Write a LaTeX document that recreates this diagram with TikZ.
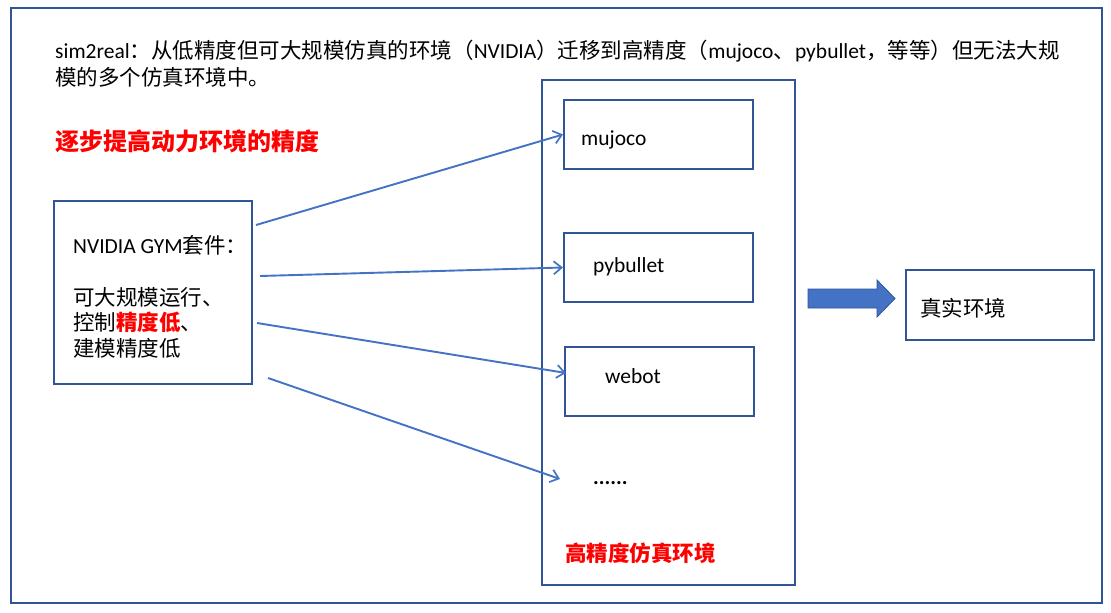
\documentclass[tikz,border=0pt]{standalone}
\usepackage{fontspec}
\setmainfont{Carlito}
\newfontfamily\cjk{Noto Sans CJK SC}
\usetikzlibrary{arrows.meta}
\newcommand\zh[1]{{\cjk #1}}
\definecolor{frameblue}{HTML}{2F5597}
\definecolor{lineblue}{HTML}{4472C4}
\definecolor{redtxt}{HTML}{FF0000}
\tikzset{
  frame/.style={draw=frameblue, line width=2pt},
  boxnode/.style={draw=frameblue, line width=2pt, inner sep=0pt},
  txt/.style={anchor=base west, inner sep=0pt, font=\fontsize{21.5}{26}\selectfont},
  redhead/.style={anchor=base west, inner sep=0pt, text=redtxt, font=\fontsize{21.5}{26}\selectfont\cjk\bfseries},
  conn/.style={draw=lineblue, line width=1.9pt, -{Straight Barb[length=8pt,width=13pt,line width=1.7pt]}},
}
\begin{document}
\begin{tikzpicture}[x=1pt,y=-1pt]
\useasboundingbox (0,0) rectangle (1111,613);
\fill[white] (0,0) rectangle (1111,613);
% outer frame
\draw[frame] (11,8) rectangle (1102,603);
% title
\node[txt] (t1) at (55,58) {sim2real\zh{：从低精度但可大规模仿真的环境（}NVIDIA\zh{）迁移到高精度（}mujoco\zh{、}pybullet\zh{，等等）但无法大规}};
\node[txt] (t2) at (55,85) {\zh{模的多个仿真环境中。}};
% heading
\node[redhead, font=\fontsize{24}{28}\selectfont\cjk\bfseries] (head) at (55,150) {逐步提高动力环境的精度};
% left box
\node[boxnode, minimum width=198pt, minimum height=183pt] (gym) at (153,292.5) {};
\node[txt] (g1) at (73,253) {NVIDIA GYM\zh{套件：}};
\node[txt] (g2) at (73,305) {\zh{可大规模运行、}};
\node[txt] (g3) at (73,330) {\zh{控制{\bfseries\color{redtxt}精度低}、}};
\node[txt] (g4) at (73,356) {\zh{建模精度低}};
% middle big box
\node[boxnode, minimum width=253pt, minimum height=505pt] (hi) at (668.5,332.5) {};
\node[boxnode, minimum width=189pt, minimum height=69pt] (mujoco) at (658.5,134.5) {};
\node[txt] (tm) at (581,145) {mujoco};
\node[boxnode, minimum width=189pt, minimum height=69pt] (pybullet) at (658.5,267.5) {};
\node[txt] (tp) at (593,272) {pybullet};
\node[boxnode, minimum width=189pt, minimum height=69pt] (webot) at (659.5,381.5) {};
\node[txt] (tw) at (605,383) {webot};
\node[txt] (dots) at (593,484) {\bfseries......};
\node[redhead] (hilabel) at (565,561) {高精度仿真环境};
% real env box
\node[boxnode, minimum width=188pt, minimum height=70pt] (real) at (1000,304.5) {};
\node[txt] (tr) at (920,316) {\zh{真实环境}};
% block arrow
\draw[fill=lineblue, draw=frameblue, line width=0.8pt] (808,289) -- (877,289) -- (877,280) -- (895,298.5) -- (877,317) -- (877,308) -- (808,308) -- cycle;
% connectors
\coordinate (s1) at (256,225);
\coordinate (s2) at (260,276);
\coordinate (s3) at (257,323);
\coordinate (s4) at (268,378);
\coordinate (e3) at (566,373);
\coordinate (e4) at (560,479);
\draw[conn] (s1) -- (mujoco.west);
\draw[conn] (s2) -- (pybullet.west);
\draw[conn] (s3) -- (e3);
\draw[conn] (s4) -- (e4);
\end{tikzpicture}
\end{document}
